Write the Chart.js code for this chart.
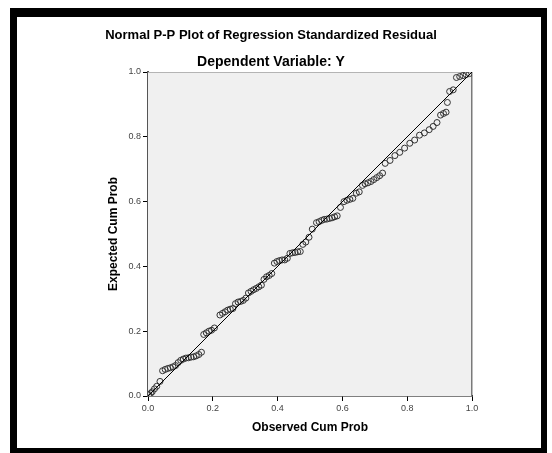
<!DOCTYPE html>
<html>
<head>
<meta charset="utf-8">
<script src="https://cdn.jsdelivr.net/npm/chart.js@4"></script>
<style>
  html, body { margin: 0; padding: 0; background: #fff; }
  #wrap { position: relative; width: 552px; height: 453px; }
  canvas { position: absolute; left: 0; top: 0; }
  #frame { position: absolute; left: 10px; top: 8px; width: 524px; height: 431px;
           border-left: 7px solid #000; border-top: 9px solid #000;
           border-bottom: 6px solid #000; border-right: 6px solid #000; pointer-events: none; }
</style>
</head>
<body>
<div id="wrap">
  <canvas id="c" width="552" height="453"></canvas>
  <div id="frame"></div>
</div>
<script>
const titleText = 'Normal P-P Plot of Regression Standardized Residual';
const subtitleText = 'Dependent Variable: Y';
const xAxisTitle = 'Observed Cum Prob';
const yAxisTitle = 'Expected Cum Prob';
const tickLabels = ['0.0', '0.2', '0.4', '0.6', '0.8', '1.0'];

const observedCumProb = [
  0.003, 0.008, 0.013, 0.020, 0.027, 0.037, 0.045, 0.053, 0.061, 0.069,
  0.077, 0.085, 0.093, 0.101, 0.109, 0.117, 0.125, 0.133, 0.141, 0.149,
  0.157, 0.165, 0.172, 0.180, 0.188, 0.196, 0.205, 0.222, 0.230, 0.238,
  0.246, 0.254, 0.262, 0.270, 0.278, 0.286, 0.294, 0.302, 0.310, 0.318,
  0.326, 0.334, 0.342, 0.350, 0.358, 0.366, 0.374, 0.382, 0.390, 0.398,
  0.406, 0.414, 0.422, 0.430, 0.438, 0.446, 0.454, 0.462, 0.470, 0.478,
  0.487, 0.497, 0.507, 0.520, 0.528, 0.536, 0.544, 0.552, 0.560, 0.568,
  0.576, 0.584, 0.594, 0.605, 0.614, 0.623, 0.632, 0.643, 0.652, 0.662,
  0.670, 0.679, 0.688, 0.697, 0.706, 0.715, 0.724, 0.732, 0.747, 0.762,
  0.777, 0.792, 0.808, 0.823, 0.838, 0.853, 0.868, 0.880, 0.892, 0.903,
  0.912, 0.920, 0.924, 0.931, 0.942, 0.952, 0.962, 0.972, 0.982, 0.992
];
const expectedCumProb = [
  0.004, 0.008, 0.013, 0.022, 0.030, 0.045, 0.078, 0.082, 0.085, 0.087,
  0.090, 0.094, 0.103, 0.110, 0.114, 0.117, 0.118, 0.120, 0.121, 0.124,
  0.128, 0.135, 0.190, 0.195, 0.200, 0.203, 0.210, 0.250, 0.255, 0.260,
  0.265, 0.268, 0.270, 0.285, 0.290, 0.292, 0.295, 0.302, 0.318, 0.323,
  0.328, 0.332, 0.337, 0.342, 0.360, 0.368, 0.372, 0.378, 0.410, 0.415,
  0.418, 0.420, 0.420, 0.425, 0.440, 0.442, 0.443, 0.445, 0.446, 0.468,
  0.475, 0.490, 0.515, 0.535, 0.538, 0.542, 0.545, 0.546, 0.548, 0.550,
  0.553, 0.556, 0.582, 0.600, 0.604, 0.607, 0.610, 0.626, 0.630, 0.650,
  0.655, 0.658, 0.662, 0.668, 0.674, 0.680, 0.688, 0.718, 0.727, 0.742,
  0.752, 0.765, 0.780, 0.790, 0.805, 0.812, 0.822, 0.832, 0.844, 0.867,
  0.872, 0.876, 0.906, 0.940, 0.945, 0.983, 0.986, 0.989, 0.992, 0.995
];
const refLineX = [0, 1];
const refLineY = [0, 1];

const points = observedCumProb.map((x, i) => ({ x: x, y: expectedCumProb[i] }));
const refLine = refLineX.map((x, i) => ({ x: x, y: refLineY[i] }));

const FONT = "'Liberation Sans', Arial, sans-serif";

const plotFrame = {
  id: 'plotFrame',
  beforeDatasetsDraw(chart) {
    const { ctx, chartArea: a } = chart;
    ctx.save();
    ctx.fillStyle = '#f0f0f0';
    ctx.fillRect(a.left, a.top, a.right - a.left, a.bottom - a.top);
    ctx.strokeStyle = '#b4b4b4';
    ctx.lineWidth = 1;
    ctx.beginPath();
    ctx.moveTo(a.left, a.top + 0.5);
    ctx.lineTo(a.right, a.top + 0.5);
    ctx.stroke();
    ctx.strokeStyle = '#7a7a7a';
    ctx.lineWidth = 1.5;
    ctx.beginPath();
    ctx.moveTo(a.right - 0.25, a.top);
    ctx.lineTo(a.right - 0.25, a.bottom);
    ctx.stroke();
    ctx.restore();
  }
};

new Chart(document.getElementById('c'), {
  type: 'scatter',
  data: {
    datasets: [
      {
        label: 'line',
        type: 'line',
        data: refLine,
        borderColor: '#000',
        borderWidth: 1,
        pointRadius: 0,
        fill: false,
        order: 0
      },
      {
        label: 'residuals',
        data: points,
        pointRadius: 3,
        pointBorderWidth: 1,
        pointBorderColor: '#333',
        pointBackgroundColor: 'rgba(0,0,0,0)',
        order: 1
      }
    ]
  },
  options: {
    responsive: false,
    animation: false,
    events: [],
    layout: { padding: { left: 70, right: 80, top: 27.2, bottom: 10 } },
    plugins: {
      legend: { display: false },
      tooltip: { enabled: false },
      title: {
        display: true, text: titleText, color: '#000',
        font: { family: FONT, size: 13, weight: 'bold', lineHeight: 1.2 },
        padding: { top: 0, bottom: 0 }
      },
      subtitle: {
        display: true, text: subtitleText, color: '#000',
        font: { family: FONT, size: 14, weight: 'bold', lineHeight: 1.2 },
        padding: { top: 10.8, bottom: 1.6 }
      }
    },
    scales: {
      x: {
        type: 'linear', min: 0, max: 1,
        afterFit(s) { s.height = 47; },
        ticks: {
          stepSize: 0.2, padding: 2, color: '#444',
          font: { family: FONT, size: 9 },
          callback: (v) => tickLabels[Math.round(v / 0.2)]
        },
        grid: { drawOnChartArea: false, drawTicks: true, tickLength: 5, color: '#000', tickWidth: 1 },
        border: { display: true, color: '#000', width: 1.5 },
        title: {
          display: true, text: xAxisTitle, color: '#000',
          font: { family: FONT, size: 12, weight: 'bold', lineHeight: 1.2 },
          padding: { top: 0, bottom: 7.8 }
        }
      },
      y: {
        type: 'linear', min: 0, max: 1,
        afterFit(s) { s.width = 78; },
        ticks: {
          stepSize: 0.2, padding: 2, color: '#444',
          font: { family: FONT, size: 9 },
          callback: (v) => tickLabels[Math.round(v / 0.2)]
        },
        grid: { drawOnChartArea: false, drawTicks: true, tickLength: 5, color: '#000', tickWidth: 1 },
        border: { display: true, color: '#555', width: 2 },
        title: {
          display: true, text: yAxisTitle, color: '#000',
          font: { family: FONT, size: 12, weight: 'bold', lineHeight: 1.2 },
          padding: { top: 36.8, bottom: 0 }
        }
      }
    }
  },
  plugins: [plotFrame]
});
</script>
</body>
</html>
